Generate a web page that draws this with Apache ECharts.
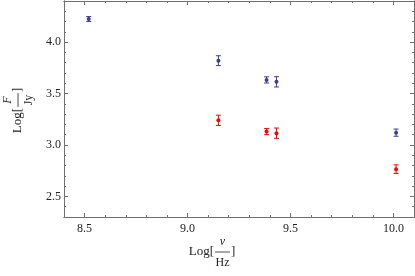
<!DOCTYPE html>
<html>
<head>
<meta charset="utf-8">
<script src="https://cdn.jsdelivr.net/npm/echarts@6/dist/echarts.min.js"></script>
<style>html,body{margin:0;padding:0;background:#fff}#c{width:415px;height:276px}</style>
</head>
<body>
<div id="c"></div>
<script>
// Data
const blueFreq = [8.52, 9.15, 9.384, 9.432, 10.013];
const blueFlux = [4.225, 3.82, 3.633, 3.614, 3.12];
const blueErr  = [0.024, 0.048, 0.03, 0.05, 0.035];
const redFreq  = [9.15, 9.384, 9.432, 10.013];
const redFlux  = [3.24, 3.131, 3.115, 2.765];
const redErr   = [0.05, 0.03, 0.05, 0.042];
const xMajorTicks = [8.5, 9.0, 9.5, 10.0];
const yMajorTicks = [2.5, 3.0, 3.5, 4.0];

const FONT = '"Liberation Serif", "DejaVu Serif", serif';
const FRAME = '#707070';
const BLUE = '#3d3d99';
const RED = '#ff0000';

function toData(xs, ys, es) { return xs.map((x, i) => [x, ys[i], es[i]]); }

function errRender(color) {
  return function (params, api) {
    const x = api.value(0), y = api.value(1), e = api.value(2);
    const c = api.coord([x, y]);
    const t = api.coord([x, y + e]);
    const b = api.coord([x, y - e]);
    const cap = 2.5;
    const st = { stroke: color, lineWidth: 1 };
    return {
      type: 'group',
      children: [
        { type: 'line', shape: { x1: c[0], y1: t[1], x2: c[0], y2: b[1] }, style: st },
        { type: 'line', shape: { x1: c[0] - cap, y1: t[1], x2: c[0] + cap, y2: t[1] }, style: st },
        { type: 'line', shape: { x1: c[0] - cap, y1: b[1], x2: c[0] + cap, y2: b[1] }, style: st },
        { type: 'circle', shape: { cx: c[0], cy: c[1], r: 2 }, style: { fill: color } }
      ]
    };
  };
}

const xRange = { min: 8.4, max: 10.1 };
const yRange = { min: 2.3, max: 4.4 };

function xAxisDef(pos, major) {
  return Object.assign({
    type: 'value', position: pos, gridIndex: 0, scale: true,
    interval: 0.1,
    axisLine: { show: true, onZero: false, lineStyle: { color: FRAME, width: 1 } },
    splitLine: { show: false },
    axisTick: major
      ? { show: true, inside: true, length: 4, customValues: xMajorTicks, lineStyle: { color: FRAME } }
      : { show: true, inside: true, length: 2, lineStyle: { color: FRAME } },
    axisLabel: (major && pos === 'bottom')
      ? { show: true, customValues: xMajorTicks, margin: 6, color: '#222', fontFamily: FONT, fontSize: 12,
          formatter: v => v.toFixed(1) }
      : { show: false }
  }, xRange);
}
function yAxisDef(pos, major) {
  return Object.assign({
    type: 'value', position: pos, gridIndex: 0, scale: true,
    interval: 0.1,
    axisLine: { show: true, onZero: false, lineStyle: { color: FRAME, width: 1 } },
    splitLine: { show: false },
    axisTick: major
      ? { show: true, inside: true, length: 4, customValues: yMajorTicks, lineStyle: { color: FRAME } }
      : { show: true, inside: true, length: 2, lineStyle: { color: FRAME } },
    axisLabel: (major && pos === 'left')
      ? { show: true, customValues: yMajorTicks, margin: 3, color: '#222', fontFamily: FONT, fontSize: 12,
          formatter: v => v.toFixed(1) }
      : { show: false }
  }, yRange);
}

function fracLabel(pos, rot, num, den, w) {
  const fs = 13, ffs = 12;
  return {
    type: 'group', x: pos[0], y: pos[1], rotation: rot, silent: true,
    children: [
      { type: 'text', x: -1, y: 0, style: { text: 'Log[', font: fs + 'px ' + FONT, fill: '#222', align: 'right', verticalAlign: 'middle' } },
      { type: 'line', shape: { x1: 0, y1: 0, x2: w, y2: 0 }, style: { stroke: '#222', lineWidth: 0.8 } },
      { type: 'text', x: w / 2, y: -10, style: { text: num, font: 'italic ' + ffs + 'px ' + FONT, fill: '#222', align: 'center', verticalAlign: 'middle' } },
      { type: 'text', x: w / 2, y: 11, style: { text: den, font: ffs + 'px ' + FONT, fill: '#222', align: 'center', verticalAlign: 'middle' } },
      { type: 'text', x: w + 1, y: 0, style: { text: ']', font: fs + 'px ' + FONT, fill: '#222', align: 'left', verticalAlign: 'middle' } }
    ]
  };
}

const chart = echarts.init(document.getElementById('c'), null, { renderer: 'canvas' });
chart.setOption({
  animation: false,
  backgroundColor: '#fff',
  grid: { left: 64, right: 1, top: 1, bottom: 59, containLabel: false },
  xAxis: [xAxisDef('bottom', true), xAxisDef('bottom', false), xAxisDef('top', true), xAxisDef('top', false)],
  yAxis: [yAxisDef('left', true), yAxisDef('left', false), yAxisDef('right', true), yAxisDef('right', false)],
  graphic: [
    fracLabel([215, 252], 0, 'ν', 'Hz', 15),
    fracLabel([18, 107], Math.PI / 2, 'F', 'Jy', 14)
  ],
  series: [
    { type: 'custom', xAxisIndex: 0, yAxisIndex: 0, renderItem: errRender(BLUE), data: toData(blueFreq, blueFlux, blueErr), clip: true },
    { type: 'custom', xAxisIndex: 0, yAxisIndex: 0, renderItem: errRender(RED), data: toData(redFreq, redFlux, redErr), clip: true }
  ]
});
</script>
</body>
</html>
